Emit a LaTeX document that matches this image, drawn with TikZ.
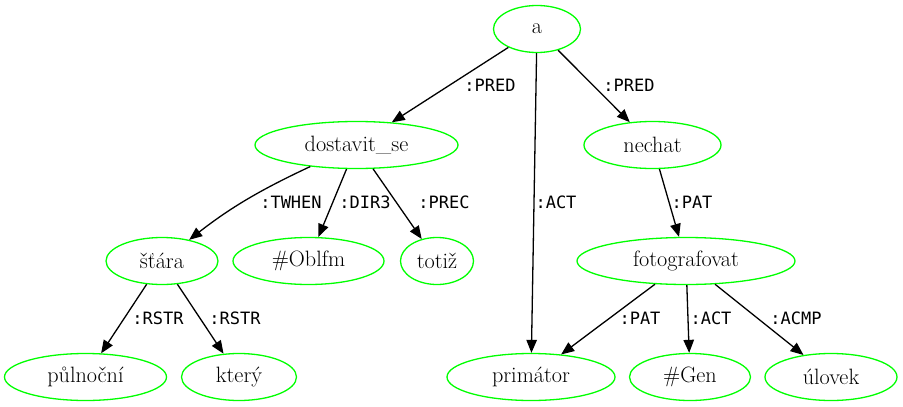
\documentclass[tikz,border=0pt]{standalone}
\usepackage{fontspec}
\newfontfamily\lblfont{DejaVu Sans Mono}
\usetikzlibrary{shapes.geometric,arrows.meta}
\begin{document}
\begin{tikzpicture}[x=1pt,y=-1pt,
  tnode/.style={ellipse,draw={rgb,255:red,0;green,255;blue,0},line width=1.3pt,inner sep=0pt,minimum height=47pt,font=\fontsize{22.2}{24}\selectfont},
  edge/.style={draw=black,line width=1.3pt,-{Triangle[length=13pt,width=10.5pt]}},
  elabel/.style={font=\lblfont\fontsize{17}{19}\selectfont,inner sep=0pt}]
\useasboundingbox (0,0) rectangle (903,407);
% nodes
\node[tnode,minimum width=87pt] (a) at (537,29) {a};
\node[tnode,minimum width=203pt] (dost) at (356.5,145) {dostavit\_se};
\node[tnode,minimum width=137pt] (nechat) at (652.5,145) {nechat};
\node[tnode,minimum width=112pt] (stara) at (162,261) {šťára};
\node[tnode,minimum width=151pt] (oblfm) at (308.5,261) {\#Oblfm};
\node[tnode,minimum width=73pt] (totiz) at (437,261) {totiž};
\node[tnode,minimum width=218pt] (foto) at (686,261) {fotografovat};
\node[tnode,minimum width=162pt] (puln) at (85.5,377) {půlnoční};
\node[tnode,minimum width=115pt] (ktery) at (239,377) {který};
\node[tnode,minimum width=168pt] (prim) at (531,377) {primátor};
\node[tnode,minimum width=121pt] (gen) at (690,377) {\#Gen};
\node[tnode,minimum width=132pt] (ulovek) at (831,377) {úlovek};
% edges
\draw[edge] (a) -- (dost);
\draw[edge] (a) -- (prim);
\draw[edge] (a) -- (nechat);
\draw[edge] (dost) .. controls (260,190) and (230,208) .. (stara);
\draw[edge] (dost) -- (oblfm);
\draw[edge] (dost) -- (totiz);
\draw[edge] (nechat) -- (foto);
\draw[edge] (stara) -- (puln);
\draw[edge] (stara) -- (ktery);
\draw[edge] (foto) -- (prim);
\draw[edge] (foto) -- (gen);
\draw[edge] (foto) -- (ulovek);
% labels
\node[elabel] (l1) at (490,85) {:PRED};
\node[elabel] (l2) at (629,85) {:PRED};
\node[elabel] (l3) at (291,202) {:TWHEN};
\node[elabel] (l4) at (365,202) {:DIR3};
\node[elabel] (l5) at (444,202) {:PREC};
\node[elabel] (l6) at (556,202) {:ACT};
\node[elabel] (l7) at (692,202) {:PAT};
\node[elabel] (l8) at (158,318) {:RSTR};
\node[elabel] (l9) at (235,318) {:RSTR};
\node[elabel] (l10) at (640,318) {:PAT};
\node[elabel] (l11) at (711,318) {:ACT};
\node[elabel] (l12) at (796,318) {:ACMP};
\end{tikzpicture}
\end{document}
